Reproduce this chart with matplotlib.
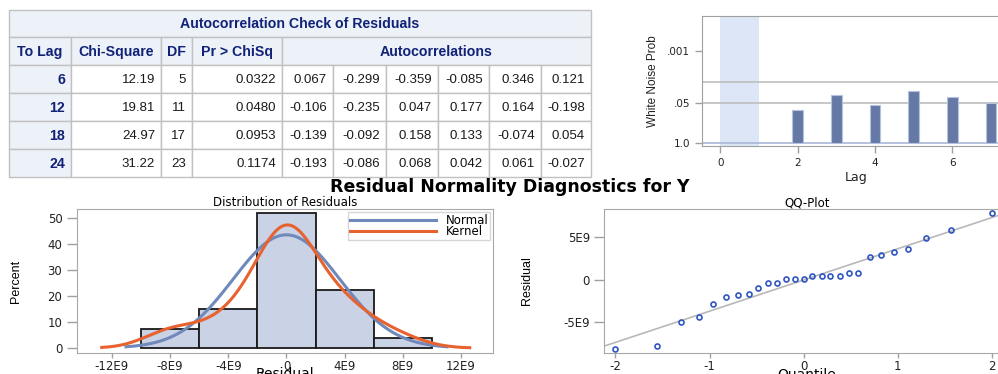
import numpy as np
import matplotlib
matplotlib.use('Agg')
import matplotlib.pyplot as plt
from matplotlib.patches import Rectangle

# ---------------- data ----------------
table_title = "Autocorrelation Check of Residuals"
table_headers = ["To Lag", "Chi-Square", "DF", "Pr > ChiSq"]
autocorr_header = "Autocorrelations"
to_lag = [6, 12, 18, 24]
chi_square = [12.19, 19.81, 24.97, 31.22]
df_vals = [5, 11, 17, 23]
pr_chisq = [0.0322, 0.0480, 0.0953, 0.1174]
autocorr = [
    [0.067, -0.299, -0.359, -0.085, 0.346, 0.121],
    [-0.106, -0.235, 0.047, 0.177, 0.164, -0.198],
    [-0.139, -0.092, 0.158, 0.133, -0.074, 0.054],
    [-0.193, -0.086, 0.068, 0.042, 0.061, -0.027],
]

wn_lags = [2, 3, 4, 5, 6, 7]
wn_prob = [0.084, 0.028, 0.060, 0.020, 0.0322, 0.050]
wn_ticks = [1.0, 0.05, 0.001]
wn_tick_labels = ["1.0", ".05", ".001"]
wn_ref = [0.05, 0.01]
wn_xticks = [0, 2, 4, 6]

qq_quantiles = [-2.00, -1.56, -1.30, -1.11, -0.96, -0.82, -0.70, -0.58, -0.48,
                -0.38, -0.28, -0.19, -0.09, 0.00, 0.09, 0.19, 0.28, 0.38, 0.48,
                0.58, 0.70, 0.82, 0.96, 1.11, 1.30, 1.56, 2.00]
residuals_e9 = [-8.10, -7.75, -4.98, -4.35, -2.86, -2.05, -1.73, -1.65, -0.98,
                -0.35, -0.32, 0.08, 0.12, 0.15, 0.43, 0.43, 0.47, 0.47, 0.82,
                0.82, 2.75, 2.94, 3.33, 3.65, 4.94, 5.84, 7.84]
hist_edges_e9 = [-10, -6, -2, 2, 6, 10]
hist_xticks_e9 = [-12, -8, -4, 0, 4, 8, 12]
hist_xtick_labels = ["-12E9", "-8E9", "-4E9", "0", "4E9", "8E9", "12E9"]
hist_yticks = [0, 10, 20, 30, 40, 50]
kernel_range_e9 = [-12.7, 12.6]
kernel_bw_e9 = 1.85
qq_xticks = [-2, -1, 0, 1, 2]
qq_yticks_e9 = [-5, 0, 5]
qq_ytick_labels = ["-5E9", "0", "5E9"]

# ---------------- figure ----------------
W, H = 998, 374
fig = plt.figure(figsize=(W / 100, H / 100), dpi=100)
fig.patch.set_facecolor('white')


def ax_px(left, top, right, bottom):
    return fig.add_axes([left / W, 1 - bottom / H, (right - left) / W, (bottom - top) / H])


# ---------------- table ----------------
tab = fig.add_axes([0, 0, 1, 1])
tab.set_xlim(0, W)
tab.set_ylim(H, 0)
tab.axis('off')
tab.set_zorder(-1)
col_x = [9, 71, 161, 192, 282, 333, 386, 438, 489, 541, 591]
row_y = [10, 37, 65, 93, 121, 149, 177]
hdr_bg = '#EDF2F9'
navy = '#112277'
border = '#C1C1C1'
tfont = ['Liberation Sans', 'DejaVu Sans']
hsize = 10.2
dsize = 9.5


def cell(x0, x1, y0, y1, bg):
    tab.add_patch(Rectangle((x0, y0), x1 - x0, y1 - y0, facecolor=bg,
                            edgecolor=border, lw=1.0))


# title row
cell(col_x[0], col_x[-1], row_y[0], row_y[1], hdr_bg)
tab.text((col_x[0] + col_x[-1]) / 2, (row_y[0] + row_y[1]) / 2 + 0.5, table_title,
         ha='center', va='center', fontsize=hsize, fontweight='bold', color=navy, family=tfont)
# header row
for i, h in enumerate(table_headers):
    cell(col_x[i], col_x[i + 1], row_y[1], row_y[2], hdr_bg)
    tab.text((col_x[i] + col_x[i + 1]) / 2, (row_y[1] + row_y[2]) / 2 + 0.5, h,
             ha='center', va='center', fontsize=hsize, fontweight='bold', color=navy, family=tfont)
cell(col_x[4], col_x[-1], row_y[1], row_y[2], hdr_bg)
tab.text((col_x[4] + col_x[-1]) / 2, (row_y[1] + row_y[2]) / 2 + 0.5, autocorr_header,
         ha='center', va='center', fontsize=hsize, fontweight='bold', color=navy, family=tfont)
# data rows
pad = 6
for r in range(len(to_lag)):
    y0, y1 = row_y[r + 2], row_y[r + 3]
    yc = (y0 + y1) / 2 + 0.5
    vals = [f"{chi_square[r]:.2f}", f"{df_vals[r]}", f"{pr_chisq[r]:.4f}"] + \
           [f"{v:.3f}" for v in autocorr[r]]
    cell(col_x[0], col_x[1], y0, y1, hdr_bg)
    tab.text(col_x[1] - pad, yc, str(to_lag[r]), ha='right', va='center', fontsize=hsize,
             fontweight='bold', color=navy, family=tfont)
    for c, v in enumerate(vals):
        cell(col_x[c + 1], col_x[c + 2], y0, y1, 'white')
        tab.text(col_x[c + 2] - pad, yc, v, ha='right', va='center', fontsize=dsize,
                 color='#1A1A1A', family=tfont)

# ---------------- white noise plot ----------------
narrow = ['Liberation Sans Narrow', 'Liberation Sans', 'DejaVu Sans']
axw = ax_px(702, 16, 1010, 146)
axw.set_xlim(-0.47, -0.47 + 308 / 38.7)
axw.set_ylim(-0.1, 4.14)
axw.axvspan(0, 1, color='#DCE6F6', zorder=0, lw=0)
for p in wn_ref:
    axw.axhline(-np.log10(p), color='#BEBEBE', lw=1.2, zorder=1)
axw.axhline(0, color='#A9B8D8', lw=1.2, zorder=2)
axw.bar(wn_lags, -np.log10(np.array(wn_prob)), width=0.27, color='#6679A6',
        edgecolor='#B4C2E0', lw=0.8, zorder=3)
axw.set_xticks(wn_xticks)
axw.set_xticklabels([str(t) for t in wn_xticks])
axw.set_yticks(-np.log10(np.array(wn_ticks)))
axw.set_yticklabels(wn_tick_labels)
for s in axw.spines.values():
    s.set_color('#A0A0A0')
axw.tick_params(colors='#A0A0A0', labelcolor='#222222', labelsize=7.5, length=5, width=1)
axw.set_xlabel('Lag', fontsize=9, labelpad=2, color='#222222')
axw.set_ylabel('White Noise Prob', fontsize=8.5, family=narrow, color='#222222', labelpad=6)

# ---------------- suptitle ----------------
fig.text(510 / W, 1 - 187 / H, "Residual Normality Diagnostics for Y", ha='center',
         va='center', fontsize=12.5, fontweight='bold', color='black')

res = np.array(residuals_e9) * 1e9
n = len(res)
binw = (hist_edges_e9[1] - hist_edges_e9[0]) * 1e9

tick_kw = dict(colors='#A0A0A0', labelcolor='#222222', labelsize=8.5, width=1)

# ---------------- histogram ----------------
axh = ax_px(77, 209, 493, 353)
axh.hist(res, bins=np.array(hist_edges_e9) * 1e9, weights=np.full(n, 100.0 / n),
         color='#CAD2E5', edgecolor='#1A1A1A', lw=1.3, zorder=1)
mu, sd = res.mean(), res.std(ddof=1)
xn = np.linspace(mu - 3 * sd, mu + 3 * sd, 300)
yn = 100 * binw * np.exp(-0.5 * ((xn - mu) / sd) ** 2) / (sd * np.sqrt(2 * np.pi))
axh.plot(xn, yn, color='#7089BB', lw=2.2, zorder=3, label='Normal')
hbw = kernel_bw_e9 * 1e9
xk = np.linspace(kernel_range_e9[0] * 1e9, kernel_range_e9[1] * 1e9, 400)
yk = 100 * binw * np.mean(np.exp(-0.5 * ((xk[:, None] - res[None, :]) / hbw) ** 2),
                          axis=1) / (hbw * np.sqrt(2 * np.pi))
axh.plot(xk, yk, color='#E8622F', lw=2.2, zorder=4, label='Kernel')
axh.set_xlim(-14.4e9, 14.2e9)
axh.set_ylim(-1.9, 53.3)
axh.set_xticks(np.array(hist_xticks_e9) * 1e9)
axh.set_xticklabels(hist_xtick_labels)
axh.set_yticks(hist_yticks)
axh.set_yticklabels([str(t) for t in hist_yticks])
for s in axh.spines.values():
    s.set_color('#A8A8A8')
axh.tick_params(axis='x', length=3.5, pad=1.5, **tick_kw)
axh.tick_params(axis='y', length=7.5, pad=3, **tick_kw)
axh.set_title('Distribution of Residuals', fontsize=8.5, pad=1.5)
axh.set_xlabel('Residual', fontsize=10)
axh.xaxis.label.set_va('top')
axh.xaxis.set_label_coords(0.5, (353 - 367) / 144)
axh.set_ylabel('Percent', fontsize=9, family=narrow)
axh.yaxis.set_label_coords((22 - 77) / 416, 0.5)
leg = axh.legend(loc='upper right', fontsize=8.5, frameon=True, fancybox=False,
                 handlelength=7.3, borderpad=0.15, labelspacing=-0.15, borderaxespad=0.25,
                 handletextpad=0.8)
leg.get_frame().set_edgecolor('#CCCCCC')
leg.get_frame().set_linewidth(1.0)

# ---------------- QQ plot ----------------
axq = ax_px(604, 209, 1010, 353)
axq.set_xlim(-2.12, -2.12 + 406 / 94.2)
axq.set_ylim(-8.6e9, 8.35e9)
qx = np.array(axq.get_xlim())
axq.plot(qx, mu + sd * qx, color='#B8B8B8', lw=1.2, zorder=1)
axq.plot(qq_quantiles, res, ls='none', marker='o', ms=3.6, mfc='none',
         mec='#2F55C0', mew=1.2, zorder=2)
axq.set_xticks(qq_xticks)
axq.set_xticklabels([str(t) for t in qq_xticks])
axq.set_yticks(np.array(qq_yticks_e9) * 1e9)
axq.set_yticklabels(qq_ytick_labels)
for s in axq.spines.values():
    s.set_color('#A8A8A8')
axq.tick_params(axis='x', length=3.5, pad=1.5, **tick_kw)
axq.tick_params(axis='y', length=7, pad=3, **tick_kw)
axq.set_title('QQ-Plot', fontsize=8.5, pad=1.5)
axq.set_xlabel('Quantile', fontsize=10)
axq.xaxis.label.set_va('top')
axq.xaxis.set_label_coords(0.5, (353 - 367) / 144)
axq.set_ylabel('Residual', fontsize=9, family=narrow)
axq.yaxis.set_label_coords((533 - 604) / 406, 0.5)

fig.savefig('out.png', dpi=100, facecolor='white')
